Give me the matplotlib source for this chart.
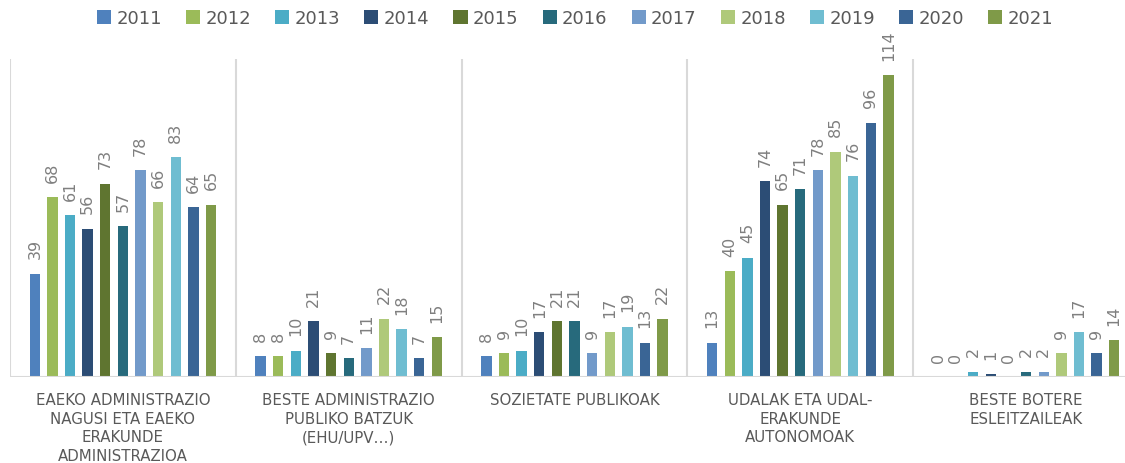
import numpy as np
import matplotlib.pyplot as plt

plt.rcParams['font.family'] = ['DejaVu Sans']

years = ['2011', '2012', '2013', '2014', '2015', '2016', '2017', '2018', '2019', '2020', '2021']
categories = ['EAEKO ADMINISTRAZIO\nNAGUSI ETA EAEKO\nERAKUNDE\nADMINISTRAZIOA',
              'BESTE ADMINISTRAZIO\nPUBLIKO BATZUK\n(EHU/UPV…)',
              'SOZIETATE PUBLIKOAK',
              'UDALAK ETA UDAL-\nERAKUNDE\nAUTONOMOAK',
              'BESTE BOTERE\nESLEITZAILEAK']
v2011 = [39, 8, 8, 13, 0]
v2012 = [68, 8, 9, 40, 0]
v2013 = [61, 10, 10, 45, 2]
v2014 = [56, 21, 17, 74, 1]
v2015 = [73, 9, 21, 65, 0]
v2016 = [57, 7, 21, 71, 2]
v2017 = [78, 11, 9, 78, 2]
v2018 = [66, 22, 17, 85, 9]
v2019 = [83, 18, 19, 76, 17]
v2020 = [64, 7, 13, 96, 9]
v2021 = [65, 15, 22, 114, 14]
series = [v2011, v2012, v2013, v2014, v2015, v2016, v2017, v2018, v2019, v2020, v2021]
colors = ['#4F81BD', '#9BBB59', '#4BACC6', '#2C4D75', '#5F7530', '#276A7C',
          '#729ACA', '#AFC97A', '#6FBDD1', '#3A6595', '#7F9A48']

W, H = 1125, 464
fig = plt.figure(figsize=(W/100, H/100), dpi=100)
ax = fig.add_axes([10/W, (H-378)/H, 1129/W, (378-60)/H])

x = np.arange(len(categories))
slot = 0.078
bw = 0.046
for i, (vals, c) in enumerate(zip(series, colors)):
    pos = x + (i - 5) * slot
    ax.bar(pos, vals, width=bw, color=c, label=years[i], zorder=3)
    for p, v in zip(pos, vals):
        ax.annotate(str(v), (p, v), xytext=(0, 11), textcoords='offset points',
                    rotation=90, ha='center', va='bottom',
                    fontsize=11.5, color='#7F7F7F', annotation_clip=False)

ax.set_xlim(-0.5, 4.5)
ax.set_ylim(0, 120)
for b in np.arange(-0.5, 5, 1):
    ax.axvline(b, color='#D9D9D9', lw=1.5, zorder=1)
ax.axhline(0, color='#D9D9D9', lw=1.5, zorder=4)
for s in ax.spines.values():
    s.set_visible(False)
ax.set_yticks([])
ax.set_xticks(x)
ax.set_xticklabels(categories, fontsize=10.8, color='#595959', linespacing=1.3)
ax.tick_params(axis='x', length=0, pad=11)

fig.legend(loc='center', bbox_to_anchor=(575/W, 1 - 19/H), ncol=11, frameon=False,
           fontsize=13, handlelength=0.78, handleheight=0.78, handletextpad=0.3,
           columnspacing=1.33, labelcolor='#595959')

fig.savefig('out.png', dpi=100)
